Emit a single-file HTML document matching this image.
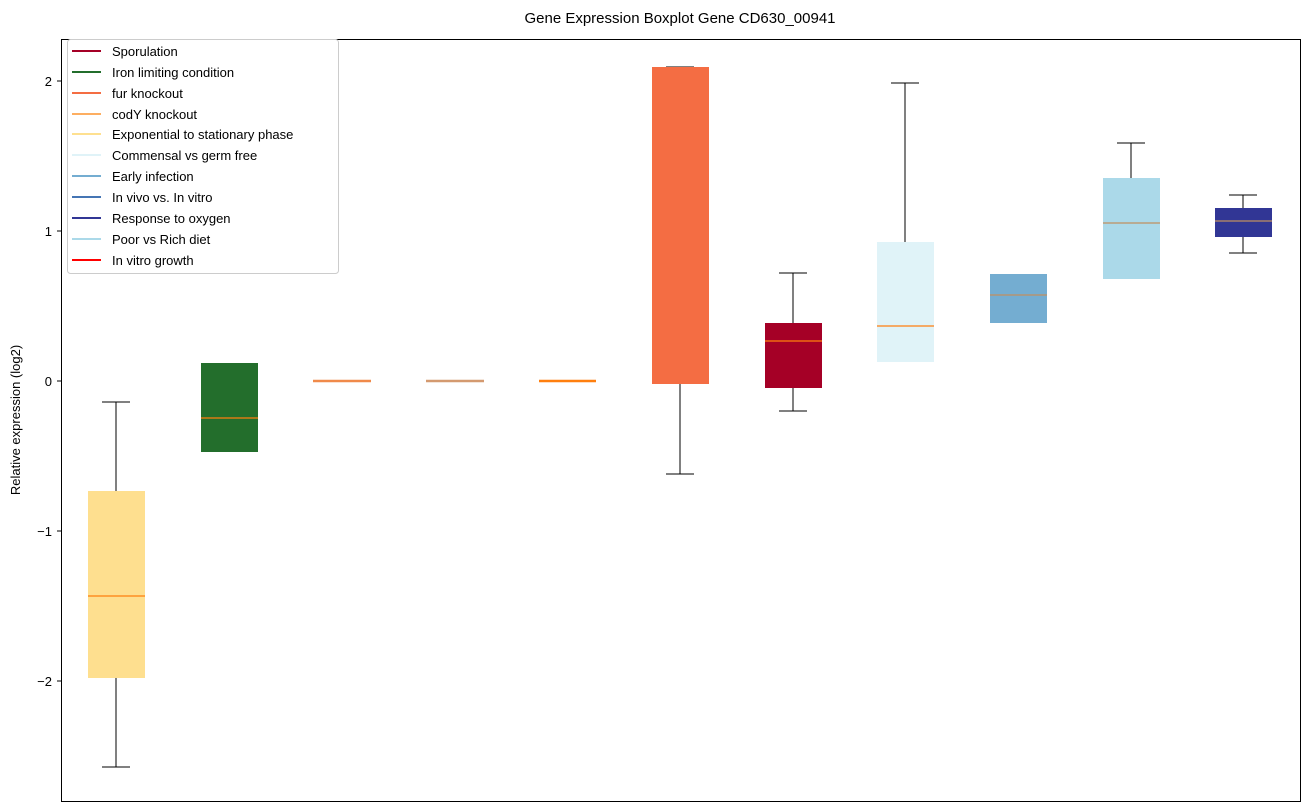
<!DOCTYPE html><html><head><style>body{margin:0;background:#fff}svg{display:block;font-family:"Liberation Sans","DejaVu Sans",sans-serif}</style></head><body>
<svg width="1309" height="812" viewBox="0 0 1309 812">
<text x="680" y="23" font-size="15" text-anchor="middle">Gene Expression Boxplot Gene CD630_00941</text>
<g stroke="#000" stroke-width="1">
<line x1="116" y1="402" x2="116" y2="491"/><line x1="116" y1="678" x2="116" y2="767"/><line x1="102" y1="402" x2="130" y2="402"/><line x1="102" y1="767" x2="130" y2="767"/>
<line x1="680" y1="384" x2="680" y2="474"/><line x1="666" y1="474" x2="694" y2="474"/><line x1="666" y1="67" x2="694" y2="67"/>
<line x1="793" y1="273" x2="793" y2="323"/><line x1="793" y1="388" x2="793" y2="411"/><line x1="779" y1="273" x2="807" y2="273"/><line x1="779" y1="411" x2="807" y2="411"/>
<line x1="905" y1="83" x2="905" y2="242"/><line x1="891" y1="83" x2="919" y2="83"/>
<line x1="1131" y1="143" x2="1131" y2="178"/><line x1="1117" y1="143" x2="1145" y2="143"/>
<line x1="1243" y1="195" x2="1243" y2="208"/><line x1="1243" y1="237" x2="1243" y2="253"/><line x1="1229" y1="195" x2="1257" y2="195"/><line x1="1229" y1="253" x2="1257" y2="253"/>
</g>
<rect x="88" y="491" width="57" height="187" fill="#fedf8f"/>
<rect x="201" y="363" width="57" height="89" fill="#236e2c"/>
<rect x="652" y="67" width="57" height="317" fill="#f46d43"/>
<rect x="765" y="323" width="57" height="65" fill="#a50026"/>
<rect x="877" y="242" width="57" height="120" fill="#e0f3f8"/>
<rect x="990" y="274" width="57" height="49" fill="#74add1"/>
<rect x="1103" y="178" width="57" height="101" fill="#abd9e9"/>
<rect x="1215" y="208" width="57" height="29" fill="#313695"/>
<g stroke="#ff7f0e" stroke-width="1.2">
<line x1="88" y1="596" x2="145" y2="596"/><line x1="201" y1="418" x2="258" y2="418"/>
<line x1="313" y1="381" x2="371" y2="381" stroke-width="2.5" stroke="#f08a4a"/><line x1="426" y1="381" x2="484" y2="381" stroke-width="2.5" stroke="#d49a70"/><line x1="539" y1="381" x2="596" y2="381" stroke-width="2.5"/>
<line x1="765" y1="341" x2="822" y2="341"/><line x1="877" y1="326" x2="934" y2="326"/><line x1="990" y1="295" x2="1047" y2="295" stroke="#c09060"/><line x1="1103" y1="223" x2="1160" y2="223" stroke="#c09060"/><line x1="1215" y1="221" x2="1272" y2="221" stroke="#c09060"/>
</g>
<rect x="61.5" y="39.5" width="1239" height="762" fill="none" stroke="#000"/>
<g font-size="13" text-anchor="end">
<line x1="57" y1="81" x2="61" y2="81" stroke="#000"/><text x="52" y="86">2</text>
<line x1="57" y1="231" x2="61" y2="231" stroke="#000"/><text x="52" y="236">1</text>
<line x1="57" y1="381" x2="61" y2="381" stroke="#000"/><text x="52" y="386">0</text>
<line x1="57" y1="531" x2="61" y2="531" stroke="#000"/><text x="52" y="536">−1</text>
<line x1="57" y1="681" x2="61" y2="681" stroke="#000"/><text x="52" y="686">−2</text>
</g>
<text transform="translate(20,420) rotate(-90)" font-size="13" text-anchor="middle">Relative expression (log2)</text>
<rect x="67.5" y="39.5" width="271" height="234" rx="3" fill="#fff" fill-opacity="0.8" stroke="#ccc"/>
<g font-size="13" stroke-width="2">
<line x1="72" y1="51" x2="101" y2="51" stroke="#a50026"/><text x="112" y="56">Sporulation</text>
<line x1="72" y1="72" x2="101" y2="72" stroke="#236e2c"/><text x="112" y="77">Iron limiting condition</text>
<line x1="72" y1="93" x2="101" y2="93" stroke="#f46d43"/><text x="112" y="98">fur knockout</text>
<line x1="72" y1="114" x2="101" y2="114" stroke="#fdae61"/><text x="112" y="119">codY knockout</text>
<line x1="72" y1="134" x2="101" y2="134" stroke="#fee090"/><text x="112" y="139">Exponential to stationary phase</text>
<line x1="72" y1="155" x2="101" y2="155" stroke="#e0f3f8"/><text x="112" y="160">Commensal vs germ free</text>
<line x1="72" y1="176" x2="101" y2="176" stroke="#74add1"/><text x="112" y="181">Early infection</text>
<line x1="72" y1="197" x2="101" y2="197" stroke="#4575b4"/><text x="112" y="202">In vivo vs. In vitro</text>
<line x1="72" y1="218" x2="101" y2="218" stroke="#313695"/><text x="112" y="223">Response to oxygen</text>
<line x1="72" y1="239" x2="101" y2="239" stroke="#abd9e9"/><text x="112" y="244">Poor vs Rich diet</text>
<line x1="72" y1="260" x2="101" y2="260" stroke="#ff0000"/><text x="112" y="265">In vitro growth</text>
</g>
</svg></body></html>
